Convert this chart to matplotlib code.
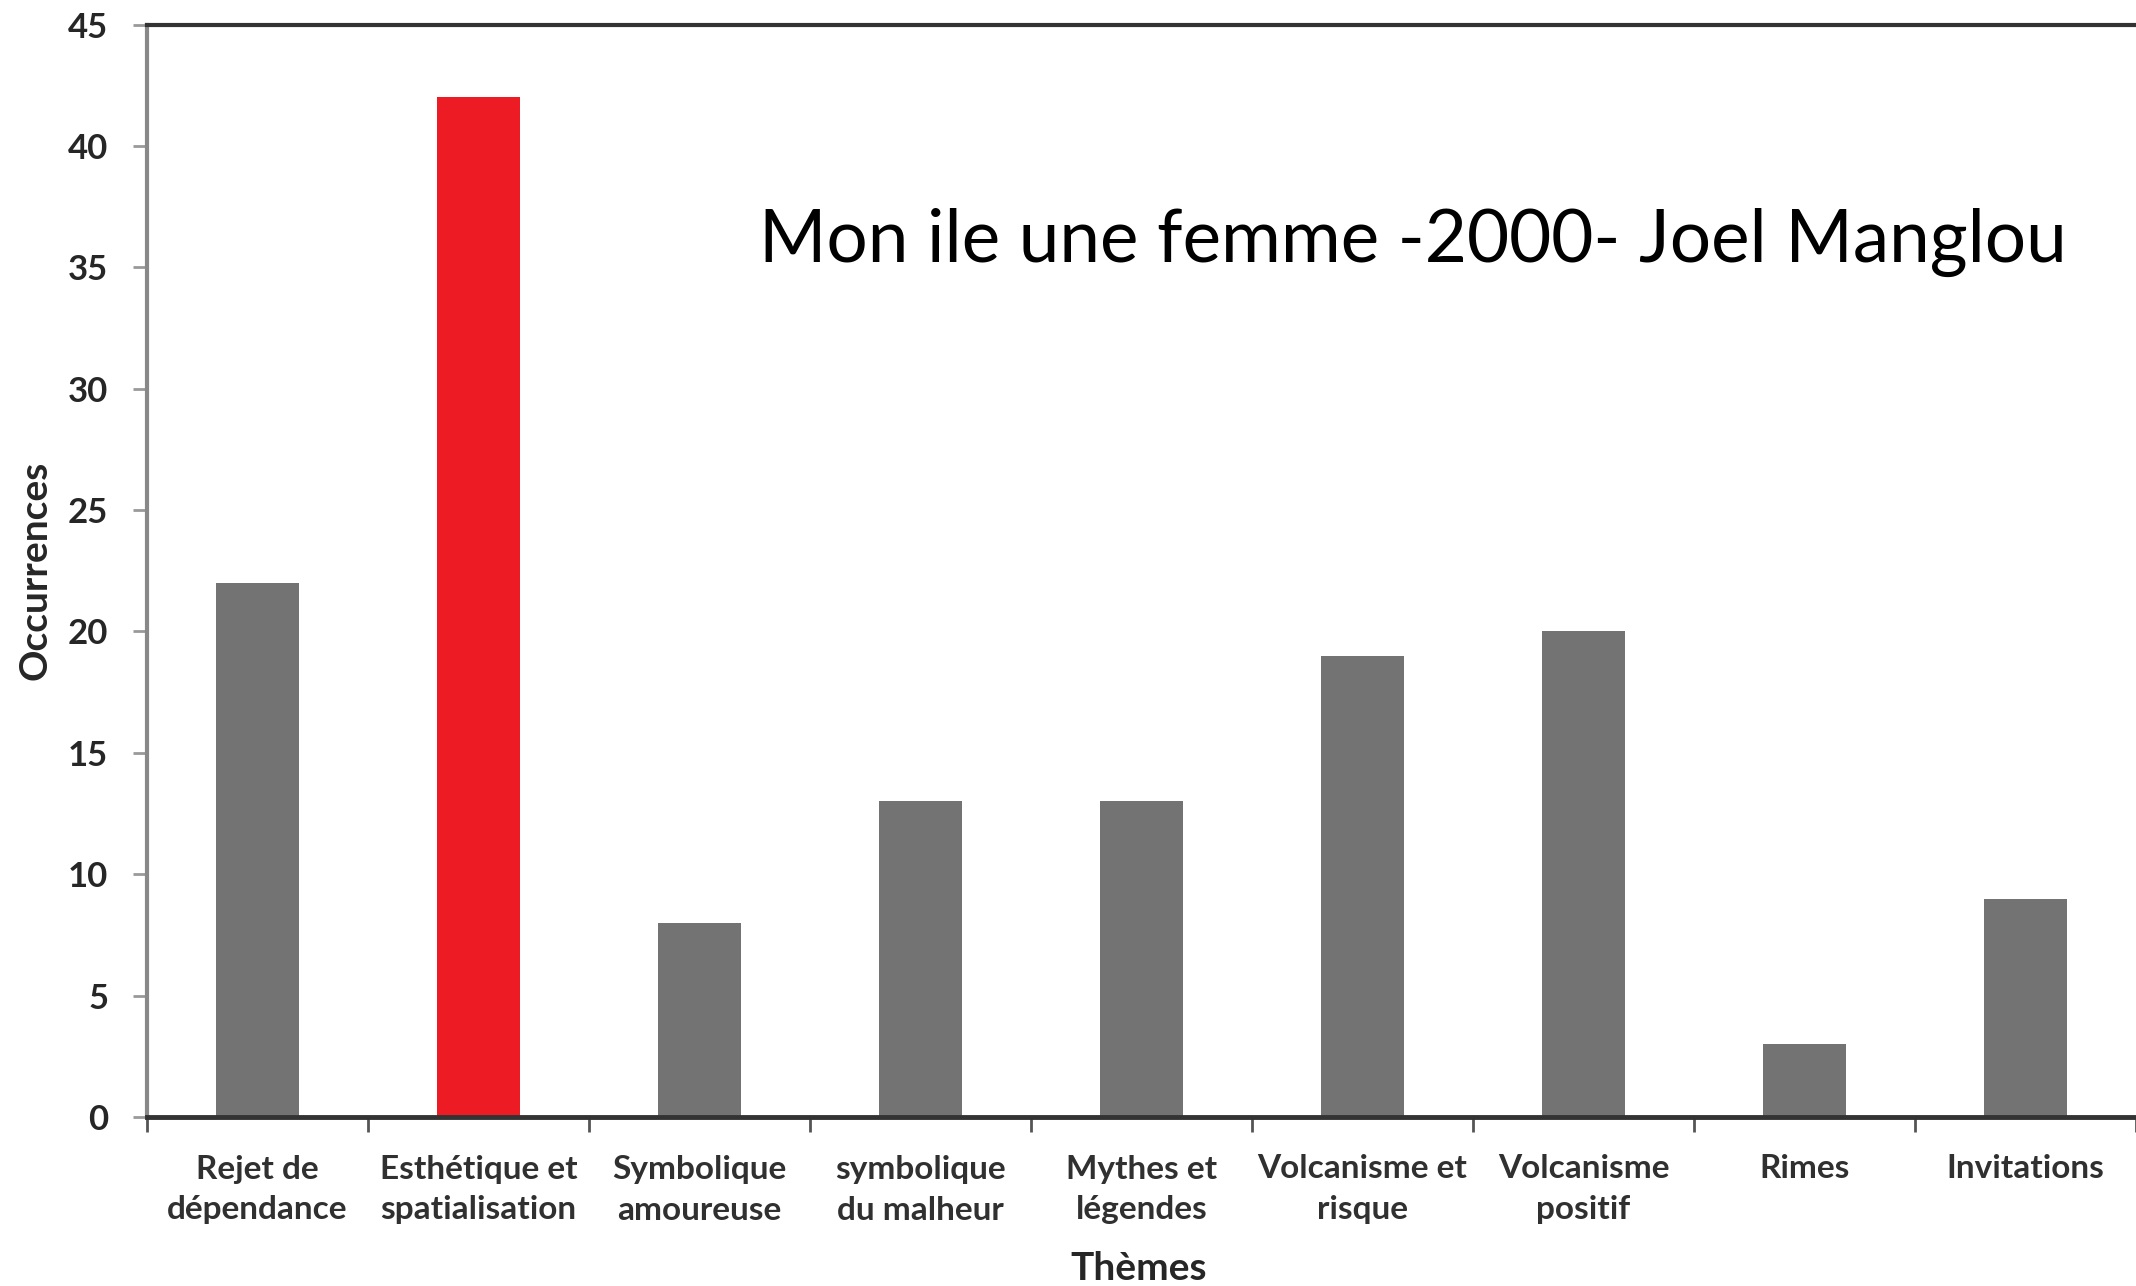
import matplotlib
matplotlib.use("Agg")
import matplotlib.pyplot as plt
import numpy as np

categories = ["Rejet de\ndépendance", "Esthétique et\nspatialisation", "Symbolique\namoureuse",
              "symbolique\ndu malheur", "Mythes et\nlégendes", "Volcanisme et\nrisque",
              "Volcanisme\npositif", "Rimes", "Invitations"]
values = [22, 42, 8, 13, 13, 19, 20, 3, 9]
highlight = "Esthétique et\nspatialisation"
yticks = [0, 5, 10, 15, 20, 25, 30, 35, 40, 45]
title = "Mon ile une femme -2000- Joel Manglou"
xlabel = "Thèmes"
ylabel = "Occurrences"

W, H = 2136, 1286
fig = plt.figure(figsize=(W / 100, H / 100), dpi=100)
left, right, top, bottom = 147, 2136, 24.5, 1117
ax = fig.add_axes([left / W, 1 - bottom / H, (right - left) / W, (bottom - top) / H])

x = np.arange(len(categories))
colors = ["#ED1C24" if c == highlight else "#737373" for c in categories]
ax.bar(x, values, width=0.38, color=colors, zorder=2)

ax.set_xlim(-0.5, len(categories) - 0.5)
ax.set_ylim(0, 45)
ax.set_yticks(yticks)
ax.set_yticklabels([str(t) for t in yticks], fontfamily="Lato", fontweight="bold",
                   fontsize=25, color="#262626")

ax.set_xticks(np.arange(len(categories) + 1) - 0.5)
ax.set_xticklabels([])
ax.set_xticks(x, minor=True)
ax.set_xticklabels(categories, minor=True, fontfamily="Lato", fontweight="bold",
                   fontsize=24, color="#303030", linespacing=1.5)
ax.tick_params(axis="x", which="minor", length=0, pad=27)
ax.tick_params(axis="x", which="major", length=11, width=2, color="#555555", direction="out")
ax.tick_params(axis="y", length=10, width=2, color="#999999", direction="out", pad=18)

ax.spines["top"].set_color("#333333")
ax.spines["top"].set_linewidth(3)
ax.spines["bottom"].set_color("#333333")
ax.spines["bottom"].set_linewidth(3.5)
ax.spines["left"].set_color("#888888")
ax.spines["left"].set_linewidth(3)
ax.spines["right"].set_visible(False)

ax.set_xlabel(xlabel, fontfamily="Lato", fontweight="bold", fontsize=28, color="#262626")
ax.xaxis.label.set_va("center")
ax.xaxis.set_label_coords((1139 - left) / (right - left), -(1268 - bottom) / (bottom - top))
ax.set_ylabel(ylabel, fontfamily="Lato", fontweight="bold", fontsize=28, color="#262626")
ax.yaxis.label.set_va("center")
ax.yaxis.set_label_coords(-(left - 35) / (right - left), 0.5)

fig.text(759 / W, 1 - 242 / H, title, fontfamily="Lato", fontsize=52.5,
         color="black", ha="left", va="center")

fig.savefig("out.png", dpi=100, facecolor="white")
